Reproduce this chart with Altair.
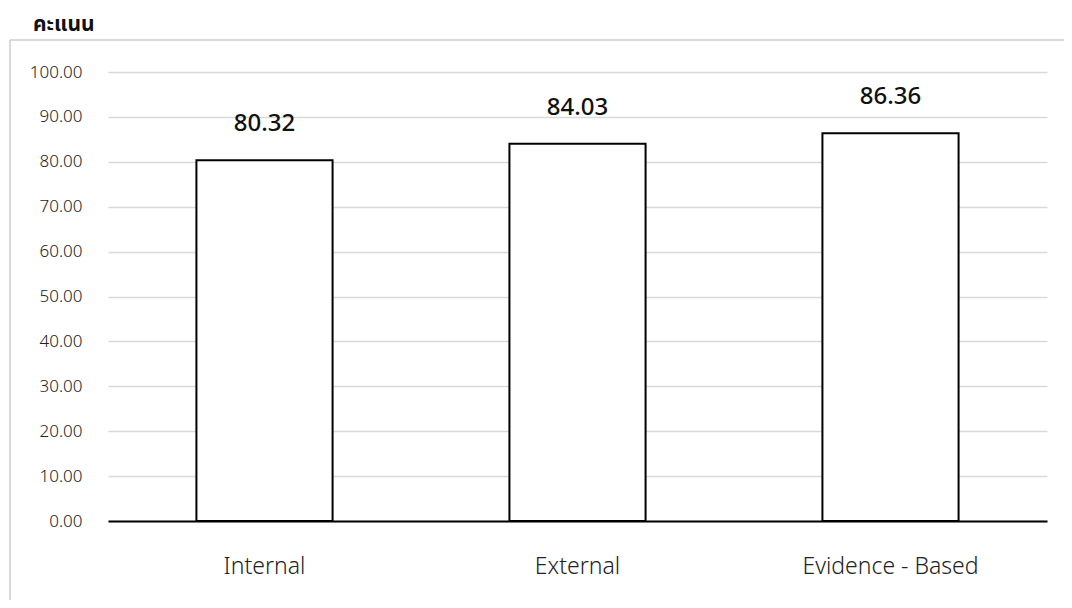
import altair as alt
import pandas as pd

categories = ["Internal", "External", "Evidence - Based"]
scores = [80.32, 84.03, 86.36]
y_ticks = [0, 10, 20, 30, 40, 50, 60, 70, 80, 90, 100]

df = pd.DataFrame({"category": categories, "score": scores})

W, H = 939, 449
FONT = "Noto Sans Thai, Noto Sans, Open Sans, sans-serif"

base = alt.Chart(df)

x_enc = alt.X(
    "category:N",
    sort=categories,
    scale=alt.Scale(paddingInner=0.565, paddingOuter=0.2825),
    axis=alt.Axis(
        title=None, labelAngle=0, labelFontSize=23, labelColor="#222222",
        labelFont=FONT, labelFontWeight=300, labelPadding=34, ticks=False,
        domainColor="#000000", domainWidth=2, grid=False,
    ),
)
y_enc = alt.Y(
    "score:Q",
    scale=alt.Scale(domain=[0, 100], nice=False),
    axis=alt.Axis(
        title=None, values=y_ticks, format=".2f", labelFontSize=17,
        labelFontWeight=300, labelColor="#222222", labelFont=FONT,
        labelPadding=26, ticks=False, domain=False, gridColor="#d9d9d9",
        gridWidth=1.5,
    ),
)

bars = base.mark_bar(fill="white", stroke="black", strokeWidth=2).encode(x=x_enc, y=y_enc)

labels = base.mark_text(
    fontSize=24, font=FONT, fontWeight=500, color="#111111", baseline="middle", dy=-36
).encode(x=alt.X("category:N", sort=categories), y="score:Q", text=alt.Text("score:Q", format=".2f"))

frame_v = base.mark_rule(color="#d9d9d9", strokeWidth=2).encode(
    x=alt.value(-98), y=alt.value(-32), y2=alt.value(H + 100)
)
frame_h = base.mark_rule(color="#d9d9d9", strokeWidth=2).encode(
    x=alt.value(-98), x2=alt.value(W + 40), y=alt.value(-32)
)

chart = alt.layer(frame_v, frame_h, bars, labels).properties(
    width=W,
    height=H,
    autosize=alt.AutoSizeParams(type="none"),
    padding={"left": 100, "top": 64, "right": 17, "bottom": 79},
    title=alt.TitleParams(
        "คะแนน", anchor="start", frame="group", dx=-75, fontSize=21,
        fontWeight="bold", font=FONT, color="#111111", offset=4,
    ),
).configure_view(stroke=None)

chart.save("out.html", embed_options={"renderer": "svg", "actions": False})
